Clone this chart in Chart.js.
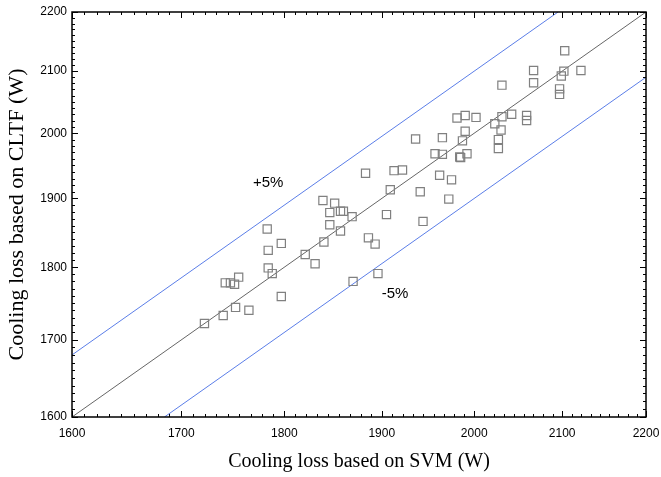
<!DOCTYPE html>
<html>
<head>
<meta charset="utf-8">
<script src="https://cdn.jsdelivr.net/npm/chart.js@4.4.0/dist/chart.umd.min.js"></script>
<style>
  html, body { margin: 0; padding: 0; background: #fff; }
  #wrap { width: 661px; height: 477px; }
</style>
</head>
<body>
<div id="wrap"><canvas id="chart" width="661" height="477"></canvas></div>
<script>
// cooling loss, SVM (x) vs CLTF (y), in W
const svm = [1722, 1740, 1752, 1765, 1742, 1747, 1751, 1755, 1783, 1784, 1784, 1788, 1797, 1797,
  1821, 1831, 1839, 1840, 1846, 1846, 1851, 1857, 1860, 1857, 1869, 1870, 1883, 1886, 1893, 1896,
  1905, 1909, 1913, 1922, 1936, 1941, 1944, 1957, 1962, 1965, 1965, 1972, 1975, 1981, 1984, 1985,
  1987, 1990, 1990, 1992, 2002, 2023, 2027, 2027, 2030, 2031, 2031, 2042, 2059, 2059, 2067, 2067,
  2097, 2097, 2099, 2102, 2103, 2122];
const cltf = [1722, 1733, 1744, 1740, 1778, 1778, 1776, 1786, 1855, 1824, 1799, 1791, 1834, 1759,
  1818, 1805, 1897, 1836, 1879, 1861, 1893, 1881, 1881, 1852, 1873, 1780, 1938, 1842, 1833, 1791,
  1876, 1913, 1942, 1943, 1991, 1910, 1866, 1968, 1935, 1993, 1967, 1899, 1928, 2024, 1963, 1962,
  1988, 2028, 2003, 1968, 2025, 2015, 1990, 1976, 2005, 2026, 2077, 2030, 2028, 2020, 2101, 2081,
  2071, 2062, 2092, 2100, 2134, 2101];

// reference lines: y = x, +5%, -5%
const diagX = [1600, 2200];
const diagY = [1600, 2200];
const plusX = [1600, 2095.2];
const plusY = [1680, 2200];
const minusX = [1684.2, 2200];
const minusY = [1600, 2090];

const tickValues = [1600, 1700, 1800, 1900, 2000, 2100, 2200];

const toPoints = (xs, ys) => xs.map((v, i) => ({ x: v, y: ys[i] }));

const frame = {
  id: 'frame',
  afterDatasetsDraw(chart) {
    const { ctx, chartArea: a, scales } = chart;
    const x = scales.x, y = scales.y;
    ctx.save();
    ctx.strokeStyle = '#000';
    ctx.lineWidth = 1;
    ctx.beginPath();
    // x ticks, bottom and top, inward
    for (let i = 0; i < tickValues.length; i++) {
      const v = tickValues[i];
      const px = Math.round(x.getPixelForValue(v)) + 0.5;
      ctx.moveTo(px, a.bottom); ctx.lineTo(px, a.bottom - 6);
      ctx.moveTo(px, a.top); ctx.lineTo(px, a.top + 6);
      if (i < tickValues.length - 1) {
        for (let k = 1; k < 9; k++) {
          const m = Math.round(x.getPixelForValue(v + k * 100 / 9)) + 0.5;
          ctx.moveTo(m, a.bottom); ctx.lineTo(m, a.bottom - 3);
          ctx.moveTo(m, a.top); ctx.lineTo(m, a.top + 3);
        }
      }
    }
    // y ticks, left and right, inward
    for (let i = 0; i < tickValues.length; i++) {
      const v = tickValues[i];
      const py = Math.round(y.getPixelForValue(v)) + 0.5;
      ctx.moveTo(a.left, py); ctx.lineTo(a.left + 6, py);
      ctx.moveTo(a.right, py); ctx.lineTo(a.right - 6, py);
      if (i < tickValues.length - 1) {
        for (let k = 1; k < 10; k++) {
          const m = Math.round(y.getPixelForValue(v + k * 10)) + 0.5;
          ctx.moveTo(a.left, m); ctx.lineTo(a.left + 3, m);
          ctx.moveTo(a.right, m); ctx.lineTo(a.right - 3, m);
        }
      }
    }
    ctx.stroke();
    ctx.lineWidth = 1.5;
    ctx.strokeRect(a.left, a.top, a.right - a.left, a.bottom - a.top);

    // band labels
    ctx.fillStyle = '#000';
    ctx.font = '15px "Liberation Sans", Arial, sans-serif';
    ctx.textAlign = 'center';
    ctx.textBaseline = 'middle';
    ctx.fillText('+5%', x.getPixelForValue(1784), y.getPixelForValue(1923));
    ctx.fillText('-5%', x.getPixelForValue(1914), y.getPixelForValue(1762));
    ctx.restore();
  }
};

const axis = (title, fit) => ({
  type: 'logarithmic',
  min: 1600,
  max: 2200,
  afterBuildTicks: s => { s.ticks = tickValues.map(v => ({ value: v })); },
  afterFit: s => {
    fit(s);
    s.paddingLeft = 0; s.paddingRight = 0; s.paddingTop = 0; s.paddingBottom = 0;
  },
  grid: { display: false, drawTicks: false },
  border: { display: false },
  ticks: {
    autoSkip: false,
    maxRotation: 0,
    color: '#000',
    font: { family: '"Liberation Sans", Arial, sans-serif', size: 12 },
    callback: v => String(v)
  },
  title: {
    display: true,
    text: title,
    color: '#000',
    font: { family: '"Liberation Serif", "Times New Roman", serif', size: 20 }
  }
});

const xAxis = axis('Cooling loss based on SVM (W)', s => { s.height = 60; });
xAxis.ticks.padding = 9;
xAxis.title.padding = { top: 0, bottom: 3 };
const yAxis = axis('Cooling loss based on CLTF (W)', s => { s.width = 72; });
yAxis.ticks.padding = 5;
yAxis.title.padding = { top: 4, bottom: 0 };
yAxis.title.font = { family: '"Liberation Serif", "Times New Roman", serif', size: 22 };

new Chart(document.getElementById('chart'), {
  type: 'scatter',
  data: {
    datasets: [
      {
        label: 'data',
        data: toPoints(svm, cltf),
        pointStyle: 'rect',
        pointRadius: 5.8,
        pointBorderWidth: 1.2,
        borderColor: '#808080',
        backgroundColor: 'rgba(0,0,0,0)',
        showLine: false
      },
      {
        label: 'y=x',
        data: toPoints(diagX, diagY),
        showLine: true,
        borderColor: '#666',
        borderWidth: 1,
        pointRadius: 0
      },
      {
        label: '+5%',
        data: toPoints(plusX, plusY),
        showLine: true,
        borderColor: '#5b7ee8',
        borderWidth: 1,
        pointRadius: 0
      },
      {
        label: '-5%',
        data: toPoints(minusX, minusY),
        showLine: true,
        borderColor: '#5b7ee8',
        borderWidth: 1,
        pointRadius: 0
      }
    ]
  },
  options: {
    responsive: false,
    animation: false,
    layout: { padding: { left: 0, right: 15, top: 12, bottom: 0 } },
    plugins: { legend: { display: false }, tooltip: { enabled: false } },
    scales: { x: xAxis, y: yAxis }
  },
  plugins: [frame]
});
</script>
</body>
</html>
